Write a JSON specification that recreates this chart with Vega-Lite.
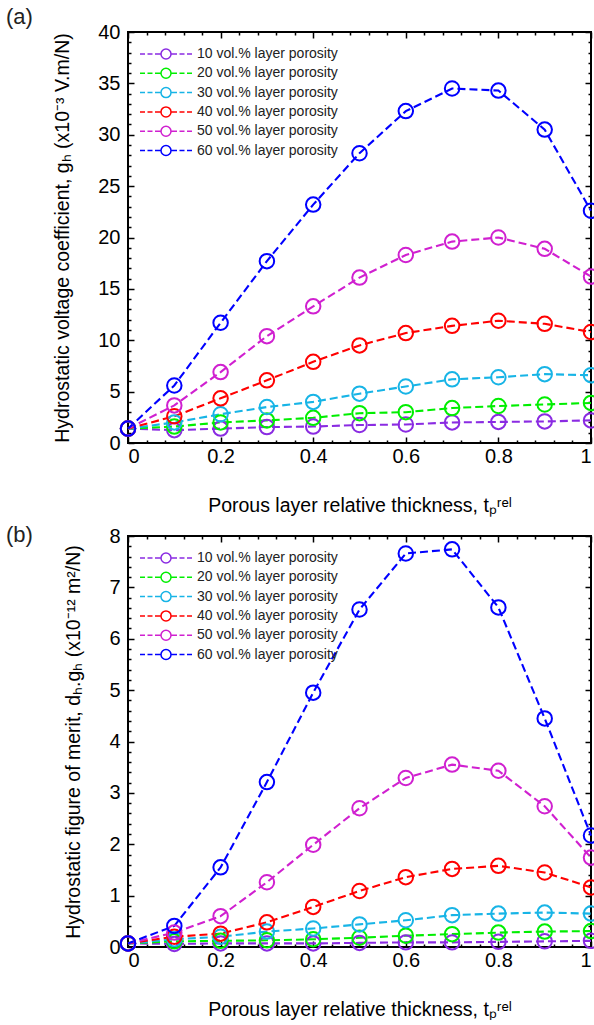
{
  "$schema": "https://vega.github.io/schema/vega-lite/v6.json",
  "padding": {"left": 5, "top": 5, "right": 0, "bottom": 0},
  "background": "white",
  "config": {
    "font": "Liberation Sans",
    "view": {"stroke": "black", "strokeWidth": 2},
    "axis": {"grid": false, "domain": false, "labelFont": "Liberation Sans", "labelFontSize": 20, "labelColor": "black", "titleFont": "Liberation Sans", "titleFontSize": 19.5, "titleFontWeight": "normal", "titleColor": "black", "tickColor": "black", "tickWidth": 1.5},
    "legend": {"labelFont": "Liberation Sans", "labelFontSize": 14, "labelColor": "#222222"},
    "title": {"font": "Liberation Sans", "fontSize": 22, "fontWeight": "normal", "anchor": "start", "frame": "group", "color": "#222222"}
  },
  "data": {"values": [
    {"t":0,"p":"10 vol.% layer porosity","g":1.4,"f":0.07},
    {"t":0.1,"p":"10 vol.% layer porosity","g":1.25,"f":0.06},
    {"t":0.2,"p":"10 vol.% layer porosity","g":1.4,"f":0.07},
    {"t":0.3,"p":"10 vol.% layer porosity","g":1.55,"f":0.07},
    {"t":0.4,"p":"10 vol.% layer porosity","g":1.6,"f":0.07},
    {"t":0.5,"p":"10 vol.% layer porosity","g":1.75,"f":0.08},
    {"t":0.6,"p":"10 vol.% layer porosity","g":1.8,"f":0.09},
    {"t":0.7,"p":"10 vol.% layer porosity","g":2.0,"f":0.09},
    {"t":0.8,"p":"10 vol.% layer porosity","g":2.05,"f":0.1},
    {"t":0.9,"p":"10 vol.% layer porosity","g":2.1,"f":0.11},
    {"t":1,"p":"10 vol.% layer porosity","g":2.2,"f":0.12},
    {"t":0,"p":"20 vol.% layer porosity","g":1.4,"f":0.07},
    {"t":0.1,"p":"20 vol.% layer porosity","g":1.6,"f":0.11},
    {"t":0.2,"p":"20 vol.% layer porosity","g":2.0,"f":0.12},
    {"t":0.3,"p":"20 vol.% layer porosity","g":2.2,"f":0.13},
    {"t":0.4,"p":"20 vol.% layer porosity","g":2.45,"f":0.15},
    {"t":0.5,"p":"20 vol.% layer porosity","g":2.9,"f":0.18},
    {"t":0.6,"p":"20 vol.% layer porosity","g":3.0,"f":0.22},
    {"t":0.7,"p":"20 vol.% layer porosity","g":3.4,"f":0.25},
    {"t":0.8,"p":"20 vol.% layer porosity","g":3.6,"f":0.28},
    {"t":0.9,"p":"20 vol.% layer porosity","g":3.75,"f":0.3},
    {"t":1,"p":"20 vol.% layer porosity","g":3.9,"f":0.31},
    {"t":0,"p":"30 vol.% layer porosity","g":1.4,"f":0.07},
    {"t":0.1,"p":"30 vol.% layer porosity","g":2.0,"f":0.15},
    {"t":0.2,"p":"30 vol.% layer porosity","g":2.8,"f":0.2},
    {"t":0.3,"p":"30 vol.% layer porosity","g":3.5,"f":0.3},
    {"t":0.4,"p":"30 vol.% layer porosity","g":4.0,"f":0.36},
    {"t":0.5,"p":"30 vol.% layer porosity","g":4.8,"f":0.44},
    {"t":0.6,"p":"30 vol.% layer porosity","g":5.5,"f":0.52},
    {"t":0.7,"p":"30 vol.% layer porosity","g":6.2,"f":0.62},
    {"t":0.8,"p":"30 vol.% layer porosity","g":6.4,"f":0.65},
    {"t":0.9,"p":"30 vol.% layer porosity","g":6.7,"f":0.67},
    {"t":1,"p":"30 vol.% layer porosity","g":6.6,"f":0.65},
    {"t":0,"p":"40 vol.% layer porosity","g":1.4,"f":0.07},
    {"t":0.1,"p":"40 vol.% layer porosity","g":2.6,"f":0.2},
    {"t":0.2,"p":"40 vol.% layer porosity","g":4.35,"f":0.26},
    {"t":0.3,"p":"40 vol.% layer porosity","g":6.1,"f":0.48},
    {"t":0.4,"p":"40 vol.% layer porosity","g":7.9,"f":0.78},
    {"t":0.5,"p":"40 vol.% layer porosity","g":9.5,"f":1.09},
    {"t":0.6,"p":"40 vol.% layer porosity","g":10.7,"f":1.36},
    {"t":0.7,"p":"40 vol.% layer porosity","g":11.4,"f":1.52},
    {"t":0.8,"p":"40 vol.% layer porosity","g":11.9,"f":1.58},
    {"t":0.9,"p":"40 vol.% layer porosity","g":11.6,"f":1.45},
    {"t":1,"p":"40 vol.% layer porosity","g":10.8,"f":1.16},
    {"t":0,"p":"50 vol.% layer porosity","g":1.4,"f":0.07},
    {"t":0.1,"p":"50 vol.% layer porosity","g":3.66,"f":0.28},
    {"t":0.2,"p":"50 vol.% layer porosity","g":6.9,"f":0.6},
    {"t":0.3,"p":"50 vol.% layer porosity","g":10.4,"f":1.26},
    {"t":0.4,"p":"50 vol.% layer porosity","g":13.3,"f":1.99},
    {"t":0.5,"p":"50 vol.% layer porosity","g":16.1,"f":2.7},
    {"t":0.6,"p":"50 vol.% layer porosity","g":18.3,"f":3.29},
    {"t":0.7,"p":"50 vol.% layer porosity","g":19.6,"f":3.55},
    {"t":0.8,"p":"50 vol.% layer porosity","g":20.0,"f":3.43},
    {"t":0.9,"p":"50 vol.% layer porosity","g":18.9,"f":2.74},
    {"t":1,"p":"50 vol.% layer porosity","g":16.2,"f":1.74},
    {"t":0,"p":"60 vol.% layer porosity","g":1.4,"f":0.07},
    {"t":0.1,"p":"60 vol.% layer porosity","g":5.6,"f":0.41},
    {"t":0.2,"p":"60 vol.% layer porosity","g":11.7,"f":1.55},
    {"t":0.3,"p":"60 vol.% layer porosity","g":17.7,"f":3.21},
    {"t":0.4,"p":"60 vol.% layer porosity","g":23.2,"f":4.95},
    {"t":0.5,"p":"60 vol.% layer porosity","g":28.2,"f":6.57},
    {"t":0.6,"p":"60 vol.% layer porosity","g":32.3,"f":7.66},
    {"t":0.7,"p":"60 vol.% layer porosity","g":34.5,"f":7.74},
    {"t":0.8,"p":"60 vol.% layer porosity","g":34.3,"f":6.61},
    {"t":0.9,"p":"60 vol.% layer porosity","g":30.5,"f":4.45},
    {"t":1,"p":"60 vol.% layer porosity","g":22.6,"f":2.17}
  ]},
  "spacing": 7,
  "resolve": {"legend": {"color": "independent"}, "scale": {"color": "independent"}},
  "vconcat": [
    {
      "title": {"text": "(a)", "dx": -122, "offset": -7},
      "width": 463,
      "height": 411,
      "resolve": {"axis": {"x": "independent", "y": "independent"}},
      "layer": [
        {
          "mark": {"type": "line", "strokeDash": [8, 4]},
          "encoding": {
            "x": {"field": "t", "type": "quantitative", "scale": {"domain": [0, 1], "nice": false},
              "axis": {"orient": "bottom", "values": [0, 0.2, 0.4, 0.6, 0.8, 1], "format": "~g", "tickSize": -6, "labelPadding": 9, "title": "Porous layer relative thickness, tₚʳᵉˡ", "titlePadding": 30}},
            "y": {"field": "g", "type": "quantitative", "scale": {"domain": [0, 40], "nice": false},
              "axis": {"orient": "left", "values": [0, 5, 10, 15, 20, 25, 30, 35, 40], "tickSize": -6, "labelPadding": 14, "title": "Hydrostatic voltage coefficient, gₕ (x10⁻³ V.m/N)", "titlePadding": 25}},
            "strokeWidth": {"field": "p", "type": "nominal", "legend": null,
              "scale": {"domain": ["10 vol.% layer porosity", "20 vol.% layer porosity", "30 vol.% layer porosity", "40 vol.% layer porosity", "50 vol.% layer porosity", "60 vol.% layer porosity"], "range": [2.1, 2.1, 2.1, 2.2, 2.3, 2.7]}},
            "color": {"field": "p", "type": "nominal",
              "scale": {"domain": ["10 vol.% layer porosity", "20 vol.% layer porosity", "30 vol.% layer porosity", "40 vol.% layer porosity", "50 vol.% layer porosity", "60 vol.% layer porosity"], "range": ["#8a2be2", "#00ee00", "#17b4e6", "#ff0000", "#d020d0", "#0000ff"]},
              "legend": {"orient": "none", "legendX": 10, "legendY": 15, "title": null, "symbolType": "M-5.2,0H-4.2M-3.7,0H-2.7M-2.2,0H-1M1,0H2.2M2.7,0H3.7M4.2,0H5.2M-1,0A1,1 0 1,1 1,0A1,1 0 1,1 -1,0Z", "symbolSize": 100, "symbolStrokeWidth": 1.5, "symbolFillColor": "transparent", "symbolOffset": 21, "labelOffset": 24, "rowPadding": 3.3}}
          }
        },
        {
          "mark": {"type": "point", "shape": "circle", "filled": false, "size": 210, "strokeWidth": 2, "opacity": 1},
          "encoding": {
            "x": {"field": "t", "type": "quantitative", "axis": {"orient": "top", "values": [0, 0.2, 0.4, 0.6, 0.8, 1], "labels": false, "tickSize": -6, "title": null}},
            "y": {"field": "g", "type": "quantitative", "axis": {"orient": "right", "values": [0, 5, 10, 15, 20, 25, 30, 35, 40], "labels": false, "tickSize": -6, "title": null}},
            "color": {"field": "p", "type": "nominal"}
          }
        },
        {
          "mark": {"type": "point", "opacity": 0},
          "encoding": {
            "x": {"field": "t", "type": "quantitative", "axis": {"orient": "bottom", "values": [0.04,0.08,0.12,0.16,0.24,0.28,0.32,0.36,0.44,0.48,0.52,0.56,0.64,0.68,0.72,0.76,0.84,0.88,0.92,0.96], "labels": false, "tickSize": -3, "title": null}},
            "y": {"field": "g", "type": "quantitative", "axis": {"orient": "left", "values": [1,2,3,4,6,7,8,9,11,12,13,14,16,17,18,19,21,22,23,24,26,27,28,29,31,32,33,34,36,37,38,39], "labels": false, "tickSize": -3, "title": null}}
          }
        },
        {
          "mark": {"type": "point", "opacity": 0},
          "encoding": {
            "x": {"field": "t", "type": "quantitative", "axis": {"orient": "top", "values": [0.04,0.08,0.12,0.16,0.24,0.28,0.32,0.36,0.44,0.48,0.52,0.56,0.64,0.68,0.72,0.76,0.84,0.88,0.92,0.96], "labels": false, "tickSize": -3, "title": null}},
            "y": {"field": "g", "type": "quantitative", "axis": {"orient": "right", "values": [1,2,3,4,6,7,8,9,11,12,13,14,16,17,18,19,21,22,23,24,26,27,28,29,31,32,33,34,36,37,38,39], "labels": false, "tickSize": -3, "title": null}}
          }
        }
      ]
    },
    {
      "title": {"text": "(b)", "dx": -122, "offset": -21},
      "width": 463,
      "height": 411,
      "resolve": {"axis": {"x": "independent", "y": "independent"}},
      "layer": [
        {
          "mark": {"type": "line", "strokeDash": [8, 4]},
          "encoding": {
            "x": {"field": "t", "type": "quantitative", "scale": {"domain": [0, 1], "nice": false},
              "axis": {"orient": "bottom", "values": [0, 0.2, 0.4, 0.6, 0.8, 1], "format": "~g", "tickSize": -6, "labelPadding": 9, "title": "Porous layer relative thickness, tₚʳᵉˡ", "titlePadding": 30}},
            "y": {"field": "f", "type": "quantitative", "scale": {"domain": [0, 8], "nice": false},
              "axis": {"orient": "left", "values": [0, 1, 2, 3, 4, 5, 6, 7, 8], "tickSize": -6, "labelPadding": 14, "title": "Hydrostatic figure of merit, dₕ.gₕ (x10⁻¹² m²/N)", "titlePadding": 25}},
            "strokeWidth": {"field": "p", "type": "nominal", "legend": null,
              "scale": {"domain": ["10 vol.% layer porosity", "20 vol.% layer porosity", "30 vol.% layer porosity", "40 vol.% layer porosity", "50 vol.% layer porosity", "60 vol.% layer porosity"], "range": [2.1, 2.1, 2.1, 2.2, 2.3, 2.7]}},
            "color": {"field": "p", "type": "nominal",
              "scale": {"domain": ["10 vol.% layer porosity", "20 vol.% layer porosity", "30 vol.% layer porosity", "40 vol.% layer porosity", "50 vol.% layer porosity", "60 vol.% layer porosity"], "range": ["#8a2be2", "#00ee00", "#17b4e6", "#ff0000", "#d020d0", "#0000ff"]},
              "legend": {"orient": "none", "legendX": 10, "legendY": 15, "title": null, "symbolType": "M-5.2,0H-4.2M-3.7,0H-2.7M-2.2,0H-1M1,0H2.2M2.7,0H3.7M4.2,0H5.2M-1,0A1,1 0 1,1 1,0A1,1 0 1,1 -1,0Z", "symbolSize": 100, "symbolStrokeWidth": 1.5, "symbolFillColor": "transparent", "symbolOffset": 21, "labelOffset": 24, "rowPadding": 3.3}}
          }
        },
        {
          "mark": {"type": "point", "shape": "circle", "filled": false, "size": 210, "strokeWidth": 2, "opacity": 1},
          "encoding": {
            "x": {"field": "t", "type": "quantitative", "axis": {"orient": "top", "values": [0, 0.2, 0.4, 0.6, 0.8, 1], "labels": false, "tickSize": -6, "title": null}},
            "y": {"field": "f", "type": "quantitative", "axis": {"orient": "right", "values": [0, 1, 2, 3, 4, 5, 6, 7, 8], "labels": false, "tickSize": -6, "title": null}},
            "color": {"field": "p", "type": "nominal"}
          }
        },
        {
          "mark": {"type": "point", "opacity": 0},
          "encoding": {
            "x": {"field": "t", "type": "quantitative", "axis": {"orient": "bottom", "values": [0.04,0.08,0.12,0.16,0.24,0.28,0.32,0.36,0.44,0.48,0.52,0.56,0.64,0.68,0.72,0.76,0.84,0.88,0.92,0.96], "labels": false, "tickSize": -3, "title": null}},
            "y": {"field": "f", "type": "quantitative", "axis": {"orient": "left", "values": [0.2,0.4,0.6,0.8,1.2,1.4,1.6,1.8,2.2,2.4,2.6,2.8,3.2,3.4,3.6,3.8,4.2,4.4,4.6,4.8,5.2,5.4,5.6,5.8,6.2,6.4,6.6,6.8,7.2,7.4,7.6,7.8], "labels": false, "tickSize": -3, "title": null}}
          }
        },
        {
          "mark": {"type": "point", "opacity": 0},
          "encoding": {
            "x": {"field": "t", "type": "quantitative", "axis": {"orient": "top", "values": [0.04,0.08,0.12,0.16,0.24,0.28,0.32,0.36,0.44,0.48,0.52,0.56,0.64,0.68,0.72,0.76,0.84,0.88,0.92,0.96], "labels": false, "tickSize": -3, "title": null}},
            "y": {"field": "f", "type": "quantitative", "axis": {"orient": "right", "values": [0.2,0.4,0.6,0.8,1.2,1.4,1.6,1.8,2.2,2.4,2.6,2.8,3.2,3.4,3.6,3.8,4.2,4.4,4.6,4.8,5.2,5.4,5.6,5.8,6.2,6.4,6.6,6.8,7.2,7.4,7.6,7.8], "labels": false, "tickSize": -3, "title": null}}
          }
        }
      ]
    }
  ]
}
